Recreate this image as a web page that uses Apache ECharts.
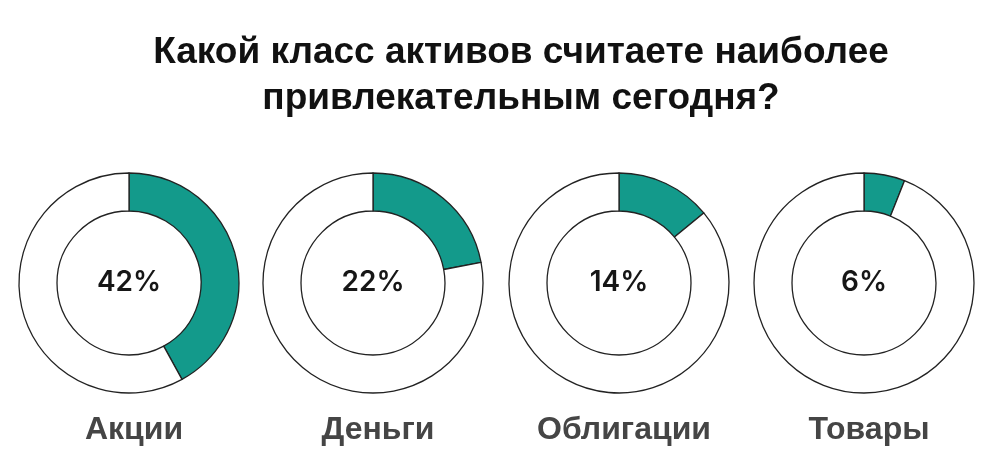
<!DOCTYPE html>
<html>
<head>
<meta charset="utf-8">
<script src="https://cdn.jsdelivr.net/npm/echarts@6/dist/echarts.min.js"></script>
<style>
  html, body { margin: 0; padding: 0; background: #fff; }
  #chart { width: 1001px; height: 469px; }
</style>
</head>
<body>
<div id="chart"></div>
<script>
// 数据
const titleText = "Какой класс активов считаете наиболее\nпривлекательным сегодня?";
const categories = ["Акции", "Деньги", "Облигации", "Товары"];
const shares = [42, 22, 14, 6];

const centersX = [129, 373, 619, 864];
const CY = 283;
const TEAL = "#139a8b";

let chart = echarts.init(document.getElementById('chart'), null, {renderer: 'canvas'});

// 每个环形图一个series
let series = categories.map((name, i) => ({
  name: name,
  type: 'pie',
  center: [centersX[i], CY],
  radius: [72, 110],
  startAngle: 90,
  clockwise: true,
  silent: true,
  avoidLabelOverlap: false,
  labelLine: { show: false },
  itemStyle: { borderColor: '#222', borderWidth: 1.3 },
  label: {
    show: true,
    position: 'center',
    fontFamily: 'Inter',
    fontSize: 28,
    fontWeight: 600,
    color: '#161616',
    formatter: (p) => p.dataIndex === 0 ? p.value + '%' : ''
  },
  data: [
    { value: shares[i], name: name, itemStyle: { color: TEAL } },
    { value: 100 - shares[i], name: 'other', itemStyle: { color: '#fff' } }
  ]
}));

// 标题和类别名称
let titles = [{
  text: titleText,
  left: 516,
  top: 25,
  textAlign: 'center',
  textStyle: {
    fontFamily: 'Liberation Sans',
    fontSize: 37,
    fontWeight: 'bold',
    color: '#111',
    lineHeight: 46,
    align: 'center'
  }
}];
categories.forEach((name, i) => {
  titles.push({
    text: name,
    left: centersX[i],
    top: 409,
    textAlign: 'center',
    textStyle: {
      fontFamily: 'Liberation Sans',
      fontSize: 32,
      fontWeight: 'bold',
      color: '#454545',
      lineHeight: 32
    }
  });
});

let option = {
  backgroundColor: '#fff',
  animation: false,
  title: titles,
  series: series
};
chart.setOption(option);
</script>
</body>
</html>
